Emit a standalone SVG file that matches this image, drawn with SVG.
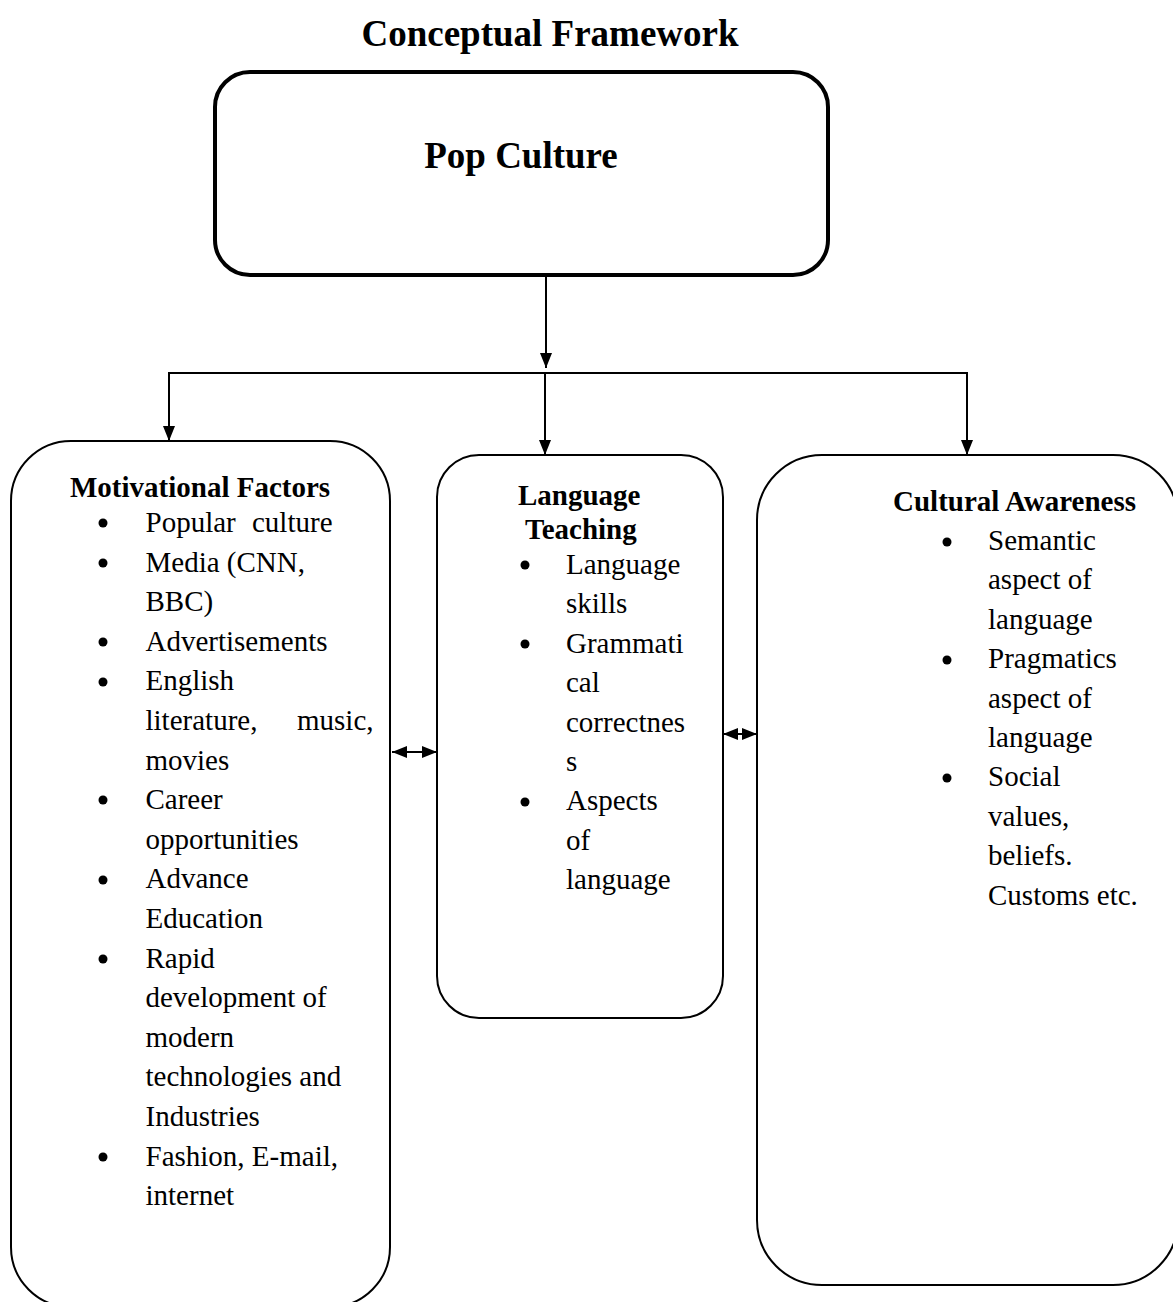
<svg xmlns="http://www.w3.org/2000/svg" width="1173" height="1302" viewBox="0 0 1173 1302">
<style>
text { font-family: "Liberation Serif", "Times New Roman", serif; fill: #000; }
.title { font-size: 37px; font-weight: bold; }
.hdr { font-size: 29px; font-weight: bold; }
.body { font-size: 29px; }
.box { fill: #fff; stroke: #000; stroke-width: 2; }
.topbox { fill: #fff; stroke: #000; stroke-width: 4; }
.conn { stroke: #000; stroke-width: 2; fill: none; }
.dot { fill: #000; }
</style>
<defs>
<marker id="ah" viewBox="0 0 15 12" refX="15" refY="6" markerWidth="15" markerHeight="12" markerUnits="userSpaceOnUse" orient="auto-start-reverse">
<path d="M0,0 L15,6 L0,12 z" fill="#000"/>
</marker>
</defs>
<rect width="1173" height="1302" fill="#fff"/>
<text class="title" x="550" y="46" text-anchor="middle">Conceptual Framework</text>

<g id="connectors">
<line class="conn" x1="546" y1="275" x2="546" y2="368" marker-end="url(#ah)"/>
<line class="conn" x1="168" y1="373" x2="968" y2="373"/>
<line class="conn" x1="169" y1="373" x2="169" y2="441" marker-end="url(#ah)"/>
<line class="conn" x1="545" y1="373" x2="545" y2="455" marker-end="url(#ah)"/>
<line class="conn" x1="967" y1="373" x2="967" y2="455" marker-end="url(#ah)"/>
<line class="conn" x1="392" y1="752" x2="437" y2="752" marker-start="url(#ah)" marker-end="url(#ah)"/>
<line class="conn" x1="723" y1="734" x2="757" y2="734" marker-start="url(#ah)" marker-end="url(#ah)"/>
</g>

<g id="pop-culture">
<rect class="topbox" x="215" y="72" width="613" height="203" rx="35" ry="35"/>
<text class="title" x="521" y="168" text-anchor="middle">Pop Culture</text>
</g>

<g id="motivational-factors">
<rect class="box" x="11" y="441" width="379" height="866" rx="60" ry="60"/>
<text class="hdr" x="70" y="497">Motivational Factors</text>
<circle class="dot" cx="103" cy="523" r="4.5"/>
<text class="body" x="145.5" y="532">Popular<tspan x="252">culture</tspan></text>
<circle class="dot" cx="103" cy="563" r="4.5"/>
<text class="body" x="145.5" y="571.6">Media (CNN,</text>
<text class="body" x="145.5" y="611.2">BBC)</text>
<circle class="dot" cx="103" cy="642" r="4.5"/>
<text class="body" x="145.5" y="650.8">Advertisements</text>
<circle class="dot" cx="103" cy="682" r="4.5"/>
<text class="body" x="145.5" y="690.4">English</text>
<text class="body" x="145.5" y="730">literature,<tspan x="297">music,</tspan></text>
<text class="body" x="145.5" y="769.6">movies</text>
<circle class="dot" cx="103" cy="800" r="4.5"/>
<text class="body" x="145.5" y="809.2">Career</text>
<text class="body" x="145.5" y="848.8">opportunities</text>
<circle class="dot" cx="103" cy="880" r="4.5"/>
<text class="body" x="145.5" y="888.4">Advance</text>
<text class="body" x="145.5" y="928">Education</text>
<circle class="dot" cx="103" cy="959" r="4.5"/>
<text class="body" x="145.5" y="967.6">Rapid</text>
<text class="body" x="145.5" y="1007.2">development of</text>
<text class="body" x="145.5" y="1046.8">modern</text>
<text class="body" x="145.5" y="1086.4">technologies and</text>
<text class="body" x="145.5" y="1126">Industries</text>
<circle class="dot" cx="103" cy="1157" r="4.5"/>
<text class="body" x="145.5" y="1165.6">Fashion, E-mail,</text>
<text class="body" x="145.5" y="1205.2">internet</text>
</g>

<g id="language-teaching">
<rect class="box" x="437" y="455" width="286" height="563" rx="42" ry="42"/>
<text class="hdr" x="518" y="505">Language</text>
<text class="hdr" x="525" y="539">Teaching</text>
<circle class="dot" cx="525" cy="565" r="4.5"/>
<text class="body" x="566" y="574">Language</text>
<text class="body" x="566" y="613.4">skills</text>
<circle class="dot" cx="525" cy="644" r="4.5"/>
<text class="body" x="566" y="652.8">Grammati</text>
<text class="body" x="566" y="692.2">cal</text>
<text class="body" x="566" y="731.6">correctnes</text>
<text class="body" x="566" y="771">s</text>
<circle class="dot" cx="525" cy="802" r="4.5"/>
<text class="body" x="566" y="810.4">Aspects</text>
<text class="body" x="566" y="849.8">of</text>
<text class="body" x="566" y="889.2">language</text>
</g>

<g id="cultural-awareness">
<rect class="box" x="757" y="455" width="421" height="830" rx="65" ry="65"/>
<text class="hdr" x="893" y="511">Cultural Awareness</text>
<circle class="dot" cx="947" cy="542" r="4.5"/>
<text class="body" x="988" y="550">Semantic</text>
<text class="body" x="988" y="589.4">aspect of</text>
<text class="body" x="988" y="628.8">language</text>
<circle class="dot" cx="947" cy="660" r="4.5"/>
<text class="body" x="988" y="668.2">Pragmatics</text>
<text class="body" x="988" y="707.6">aspect of</text>
<text class="body" x="988" y="747">language</text>
<circle class="dot" cx="947" cy="778" r="4.5"/>
<text class="body" x="988" y="786.4">Social</text>
<text class="body" x="988" y="825.8">values,</text>
<text class="body" x="988" y="865.2">beliefs.</text>
<text class="body" x="988" y="904.6">Customs etc.</text>
</g>
</svg>
